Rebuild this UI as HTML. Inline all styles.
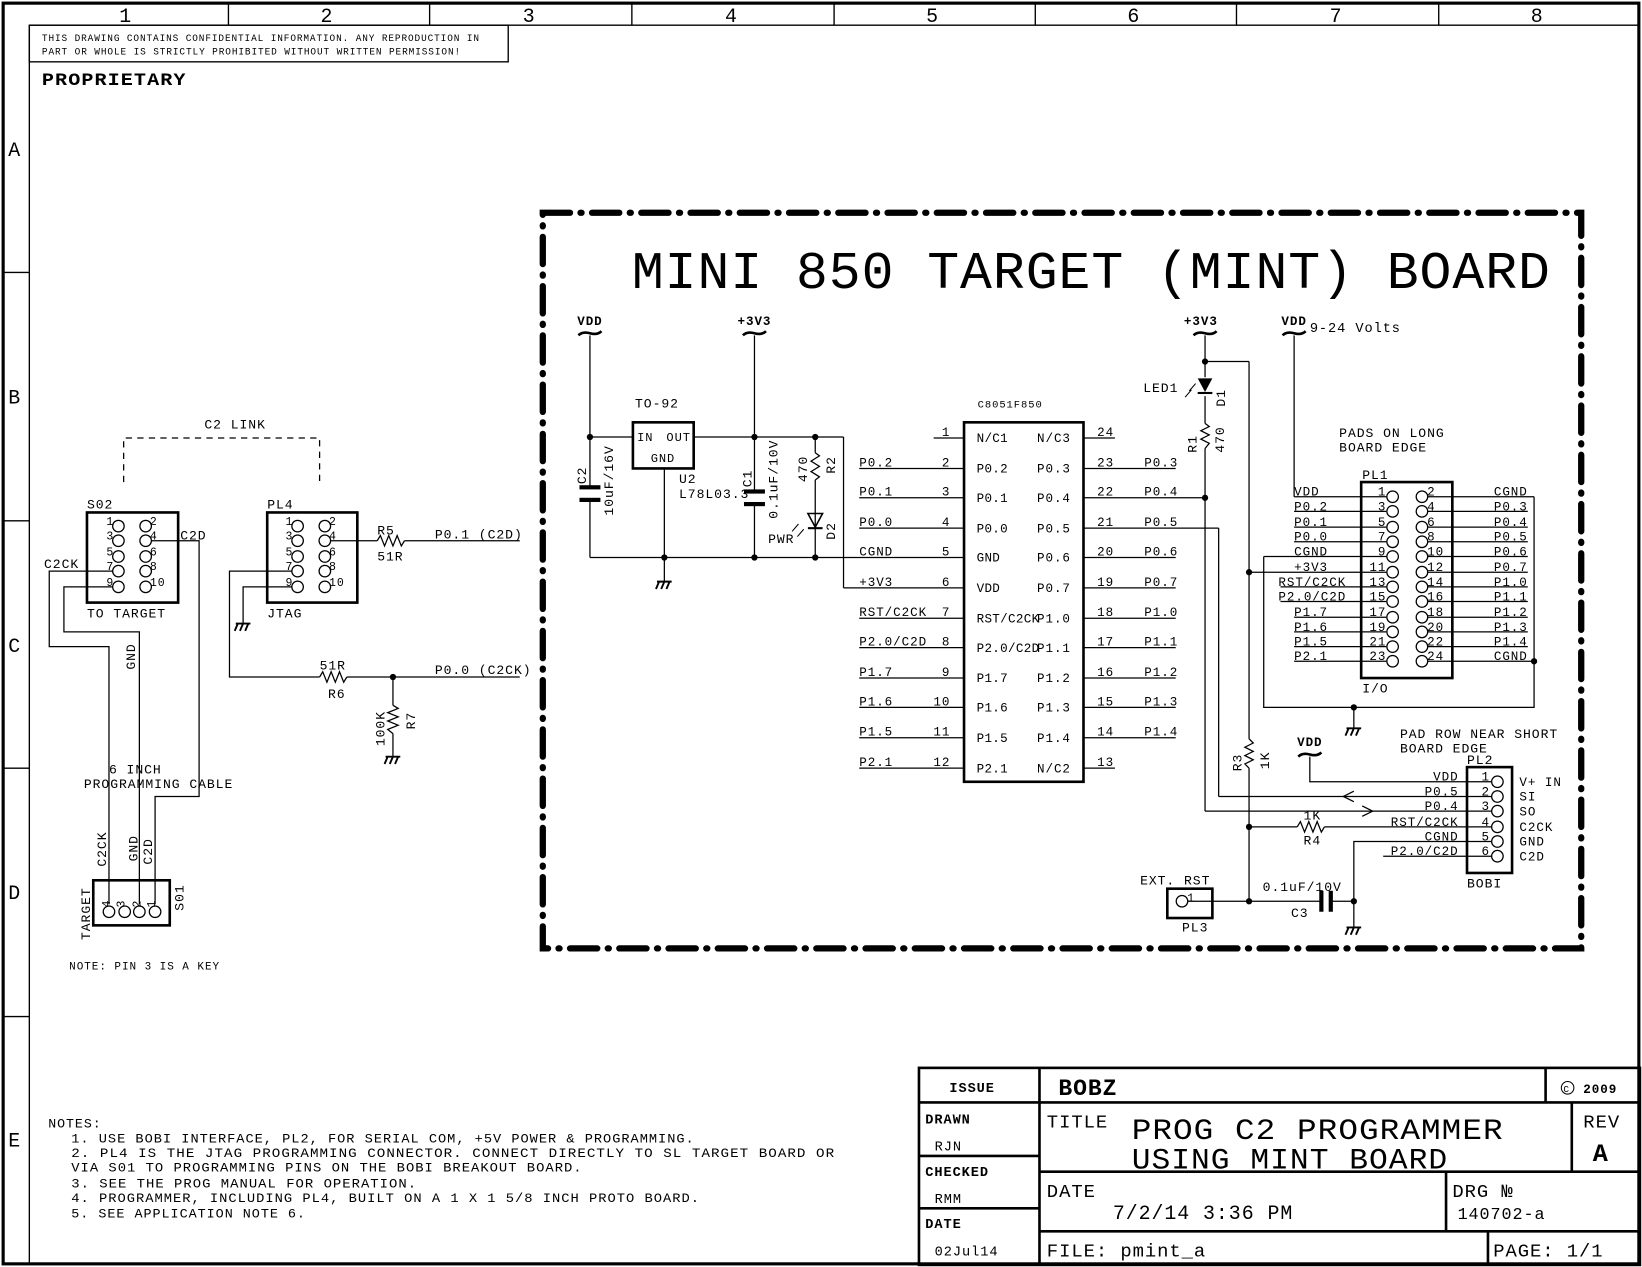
<!DOCTYPE html>
<html><head><meta charset="utf-8"><style>
html,body{margin:0;padding:0;background:#fff;}
svg{display:block}
text{font-family:"Liberation Mono",monospace;fill:#000;letter-spacing:0.9px;}
.tight text{letter-spacing:0.3px;}
</style></head><body>
<svg width="1642" height="1267" viewBox="0 0 1567 1209" preserveAspectRatio="none" xmlns="http://www.w3.org/2000/svg">
<g stroke="#000" fill="none" stroke-width="1.3">
<rect x="3" y="3" width="1561" height="1203" stroke-width="3"/>
<line x1="28" y1="24" x2="1564" y2="24"/>
<line x1="28" y1="24" x2="28" y2="1206"/>
<line x1="218" y1="3" x2="218" y2="24"/><line x1="410" y1="3" x2="410" y2="24"/><line x1="603" y1="3" x2="603" y2="24"/><line x1="796" y1="3" x2="796" y2="24"/><line x1="988" y1="3" x2="988" y2="24"/><line x1="1180" y1="3" x2="1180" y2="24"/><line x1="1373" y1="3" x2="1373" y2="24"/>
<line x1="3" y1="260" x2="28" y2="260"/><line x1="3" y1="497" x2="28" y2="497"/><line x1="3" y1="733" x2="28" y2="733"/><line x1="3" y1="970" x2="28" y2="970"/>
<rect x="28" y="24" width="457" height="35"/>
<rect x="518" y="203" width="991" height="702" stroke-width="6" stroke-dasharray="26 10 1 10" stroke-linecap="round"/>
</g>
<g font-size="19" text-anchor="middle">
<text x="120" y="21">1</text><text x="312" y="21">2</text><text x="505" y="21">3</text><text x="698" y="21">4</text><text x="890" y="21">5</text><text x="1082" y="21">6</text><text x="1275" y="21">7</text><text x="1467" y="21">8</text>
<text x="14" y="149">A</text><text x="14" y="385">B</text><text x="14" y="622">C</text><text x="14" y="858">D</text><text x="14" y="1094">E</text>
</g>
<text x="40" y="39" font-size="9.5" textLength="418" lengthAdjust="spacingAndGlyphs">THIS DRAWING CONTAINS CONFIDENTIAL INFORMATION. ANY REPRODUCTION IN</text>
<text x="40" y="52" font-size="9.5" textLength="400" lengthAdjust="spacingAndGlyphs">PART OR WHOLE IS STRICTLY PROHIBITED WITHOUT WRITTEN PERMISSION!</text>
<text x="40" y="81" font-size="17" font-weight="bold" textLength="138" lengthAdjust="spacingAndGlyphs">PROPRIETARY</text>
<text x="603" y="275" font-size="50" textLength="877" lengthAdjust="spacingAndGlyphs">MINI 850 TARGET (MINT) BOARD</text>

<g font-size="12" font-weight="bold" text-anchor="middle">
<text x="563" y="310">VDD</text><text x="720" y="310">+3V3</text><text x="1146" y="310">+3V3</text><text x="1235" y="310">VDD</text><text x="1250" y="712">VDD</text>
</g>
<g stroke="#000" fill="none" stroke-width="2.5">
<path d="M552 320 q4 -4 11 -2 q7 2 11 -2"/><path d="M709 320 q4 -4 11 -2 q7 2 11 -2"/><path d="M1139 320 q4 -4 11 -2 q7 2 11 -2"/><path d="M1224 320 q4 -4 11 -2 q7 2 11 -2"/><path d="M1239 722 q4 -4 11 -2 q7 2 11 -2"/>
</g>
<text x="1250" y="317" font-size="13">9-24 Volts</text>

<g stroke="#000" fill="none" stroke-width="1.2">
<line x1="563" y1="320" x2="563" y2="465"/><line x1="563" y1="478" x2="563" y2="532"/>
<line x1="563" y1="417" x2="604" y2="417"/>
<rect x="604" y="403" width="58" height="44" stroke-width="2.5"/>
<line x1="634" y1="447" x2="634" y2="555"/>
<line x1="662" y1="417" x2="805" y2="417"/>
<line x1="720" y1="320" x2="720" y2="469"/><line x1="720" y1="481" x2="720" y2="532"/>
<line x1="805" y1="417" x2="805" y2="561"/><line x1="805" y1="561" x2="920" y2="561"/>
<line x1="563" y1="532" x2="920" y2="532"/>
<line x1="778" y1="417" x2="778" y2="432"/>
<polyline points="778,432 782,435 774,440 782,445 774,450 782,455 778,458"/>
<line x1="778" y1="458" x2="778" y2="532"/>
<rect x="920" y="403" width="114" height="343" stroke-width="2.5"/>
<line x1="891" y1="418" x2="920" y2="418"/><line x1="1034" y1="418" x2="1064" y2="418"/><line x1="1034" y1="733" x2="1064" y2="733"/>
<line x1="820" y1="447" x2="920" y2="447"/><line x1="820" y1="475" x2="920" y2="475"/><line x1="820" y1="504" x2="920" y2="504"/>
<line x1="820" y1="590" x2="920" y2="590"/><line x1="820" y1="618" x2="920" y2="618"/><line x1="820" y1="647" x2="920" y2="647"/><line x1="820" y1="675" x2="920" y2="675"/><line x1="820" y1="704" x2="920" y2="704"/><line x1="820" y1="733" x2="920" y2="733"/>
<line x1="1034" y1="447" x2="1122" y2="447"/><line x1="1034" y1="475" x2="1150" y2="475"/><line x1="1034" y1="504" x2="1163" y2="504"/><line x1="1034" y1="532" x2="1122" y2="532"/><line x1="1034" y1="561" x2="1122" y2="561"/><line x1="1034" y1="590" x2="1122" y2="590"/><line x1="1034" y1="618" x2="1122" y2="618"/><line x1="1034" y1="647" x2="1122" y2="647"/><line x1="1034" y1="675" x2="1122" y2="675"/><line x1="1034" y1="704" x2="1122" y2="704"/>
<line x1="1150" y1="320" x2="1150" y2="360"/>
<line x1="1150" y1="345" x2="1192" y2="345"/><line x1="1192" y1="345" x2="1192" y2="705"/>
<line x1="1150" y1="378" x2="1150" y2="404"/>
<polyline points="1150,404 1154,407 1146,411 1154,415 1146,419 1154,423 1150,428"/>
<line x1="1150" y1="428" x2="1150" y2="774"/>
<line x1="1163" y1="504" x2="1163" y2="760"/>
<polyline points="1192,705 1196,709 1188,713 1196,717 1188,721 1196,725 1188,729 1192,733"/>
<line x1="1192" y1="733" x2="1192" y2="860"/>
<rect x="1299" y="460" width="87" height="187" stroke-width="2.5"/>
<line x1="1235" y1="320" x2="1235" y2="474"/>
<line x1="1235" y1="474" x2="1323" y2="474"/><line x1="1235" y1="488" x2="1323" y2="488"/><line x1="1235" y1="503" x2="1323" y2="503"/><line x1="1235" y1="517" x2="1323" y2="517"/><line x1="1206" y1="531" x2="1323" y2="531"/><line x1="1192" y1="546" x2="1323" y2="546"/><line x1="1222" y1="560" x2="1323" y2="560"/><line x1="1222" y1="574" x2="1323" y2="574"/><line x1="1235" y1="589" x2="1323" y2="589"/><line x1="1235" y1="603" x2="1323" y2="603"/><line x1="1235" y1="617" x2="1323" y2="617"/><line x1="1235" y1="631" x2="1323" y2="631"/>
<line x1="1362" y1="474" x2="1464" y2="474"/><line x1="1362" y1="488" x2="1458" y2="488"/><line x1="1362" y1="503" x2="1458" y2="503"/><line x1="1362" y1="517" x2="1458" y2="517"/><line x1="1362" y1="531" x2="1458" y2="531"/><line x1="1362" y1="546" x2="1458" y2="546"/><line x1="1362" y1="560" x2="1458" y2="560"/><line x1="1362" y1="574" x2="1458" y2="574"/><line x1="1362" y1="589" x2="1458" y2="589"/><line x1="1362" y1="603" x2="1458" y2="603"/><line x1="1362" y1="617" x2="1458" y2="617"/><line x1="1362" y1="631" x2="1464" y2="631"/>
<polyline points="1464,474 1464,675 1206,675 1206,531"/>
<line x1="1292" y1="675" x2="1292" y2="695"/>
<rect x="1400" y="732" width="43" height="101" stroke-width="2.5"/>
<polyline points="1250,722 1250,746 1424,746"/>
<line x1="1163" y1="760" x2="1424" y2="760"/>
<line x1="1150" y1="774" x2="1424" y2="774"/>
<polyline points="1292,755 1282,760 1292,765"/><polyline points="1300,769 1310,774 1300,779"/>
<line x1="1192" y1="789" x2="1238" y2="789"/>
<polyline points="1238,789 1241,784 1245,794 1249,784 1253,794 1257,784 1261,794 1264,789"/>
<line x1="1264" y1="789" x2="1424" y2="789"/>
<polyline points="1292,885 1292,803 1424,803"/>
<line x1="1320" y1="817" x2="1424" y2="817"/>
<rect x="1114" y="848" width="43" height="28" stroke-width="2.5"/>
<line x1="1133" y1="860" x2="1262" y2="860"/><line x1="1271" y1="860" x2="1292" y2="860"/>
<path d="M118 460 V418 H305 V460" stroke-dasharray="6 5"/>
<rect x="83" y="489" width="87" height="86" stroke-width="2.5"/>
<rect x="255" y="489" width="86" height="86" stroke-width="2.5"/>
<polyline points="139,516 190,516 190,760 148,760 148,863"/>
<polyline points="109,545 47,545 47,617 104,617 104,863"/>
<polyline points="109,560 61,560 61,603 133,603 133,863"/>
<line x1="310" y1="516" x2="360" y2="516"/>
<polyline points="360,516 363,511 367,521 371,511 375,521 379,511 383,521 386,516"/>
<line x1="386" y1="516" x2="496" y2="516"/>
<polyline points="280,545 219,545 219,646 305,646"/>
<polyline points="305,646 308,641 312,651 316,641 320,651 324,641 328,651 331,646"/>
<line x1="331" y1="646" x2="496" y2="646"/>
<polyline points="280,560 232,560 232,595"/>
<line x1="375" y1="646" x2="375" y2="673"/>
<polyline points="375,673 380,676 370,680 380,684 370,688 380,692 370,696 375,700"/>
<line x1="375" y1="700" x2="375" y2="722"/>
<rect x="89" y="840" width="73" height="43" stroke-width="2.5"/>
<rect x="877" y="1019" width="688" height="188" stroke-width="2.5"/>
<line x1="992" y1="1019" x2="992" y2="1207" stroke-width="2.5"/>
<line x1="877" y1="1052" x2="1565" y2="1052" stroke-width="2.5"/>
<line x1="877" y1="1103" x2="992" y2="1103" stroke-width="2.5"/>
<line x1="877" y1="1153" x2="992" y2="1153" stroke-width="2.5"/>
<line x1="992" y1="1118" x2="1565" y2="1118" stroke-width="2.5"/>
<line x1="992" y1="1175" x2="1565" y2="1175" stroke-width="2.5"/>
<line x1="1475" y1="1019" x2="1475" y2="1052" stroke-width="2.5"/>
<line x1="1500" y1="1052" x2="1500" y2="1118" stroke-width="2.5"/>
<line x1="1380" y1="1118" x2="1380" y2="1175" stroke-width="2.5"/>
<line x1="1420" y1="1175" x2="1420" y2="1207" stroke-width="2.5"/>
</g>
<g stroke="#000" fill="#fff" stroke-width="1.2">
<circle cx="1329" cy="474" r="5.5"/><circle cx="1329" cy="488" r="5.5"/><circle cx="1329" cy="503" r="5.5"/><circle cx="1329" cy="517" r="5.5"/><circle cx="1329" cy="531" r="5.5"/><circle cx="1329" cy="546" r="5.5"/><circle cx="1329" cy="560" r="5.5"/><circle cx="1329" cy="574" r="5.5"/><circle cx="1329" cy="589" r="5.5"/><circle cx="1329" cy="603" r="5.5"/><circle cx="1329" cy="617" r="5.5"/><circle cx="1329" cy="631" r="5.5"/>
<circle cx="1357" cy="474" r="5.5"/><circle cx="1357" cy="488" r="5.5"/><circle cx="1357" cy="503" r="5.5"/><circle cx="1357" cy="517" r="5.5"/><circle cx="1357" cy="531" r="5.5"/><circle cx="1357" cy="546" r="5.5"/><circle cx="1357" cy="560" r="5.5"/><circle cx="1357" cy="574" r="5.5"/><circle cx="1357" cy="589" r="5.5"/><circle cx="1357" cy="603" r="5.5"/><circle cx="1357" cy="617" r="5.5"/><circle cx="1357" cy="631" r="5.5"/>
<circle cx="1429" cy="746" r="5.5"/><circle cx="1429" cy="760" r="5.5"/><circle cx="1429" cy="774" r="5.5"/><circle cx="1429" cy="789" r="5.5"/><circle cx="1429" cy="803" r="5.5"/><circle cx="1429" cy="817" r="5.5"/>
<circle cx="1128" cy="860" r="5.5"/>
<circle cx="113" cy="502" r="5.5"/><circle cx="113" cy="516" r="5.5"/><circle cx="113" cy="531" r="5.5"/><circle cx="113" cy="545" r="5.5"/><circle cx="113" cy="560" r="5.5"/>
<circle cx="139" cy="502" r="5.5"/><circle cx="139" cy="516" r="5.5"/><circle cx="139" cy="531" r="5.5"/><circle cx="139" cy="545" r="5.5"/><circle cx="139" cy="560" r="5.5"/>
<circle cx="284" cy="502" r="5.5"/><circle cx="284" cy="516" r="5.5"/><circle cx="284" cy="531" r="5.5"/><circle cx="284" cy="545" r="5.5"/><circle cx="284" cy="560" r="5.5"/>
<circle cx="310" cy="502" r="5.5"/><circle cx="310" cy="516" r="5.5"/><circle cx="310" cy="531" r="5.5"/><circle cx="310" cy="545" r="5.5"/><circle cx="310" cy="560" r="5.5"/>
<circle cx="104" cy="870" r="5.5"/><circle cx="119" cy="870" r="5.5"/><circle cx="133" cy="870" r="5.5"/><circle cx="148" cy="870" r="5.5"/>
</g>
<g fill="#000">
<circle cx="563" cy="417" r="3"/><circle cx="720" cy="417" r="3"/><circle cx="778" cy="417" r="3"/><circle cx="634" cy="532" r="3"/><circle cx="720" cy="532" r="3"/><circle cx="778" cy="532" r="3"/>
<circle cx="1150" cy="345" r="3"/><circle cx="1150" cy="475" r="3"/><circle cx="1192" cy="546" r="3"/><circle cx="1464" cy="631" r="3"/><circle cx="1292" cy="675" r="3"/>
<circle cx="1192" cy="789" r="3"/><circle cx="1192" cy="860" r="3"/><circle cx="1292" cy="860" r="3"/><circle cx="375" cy="646" r="3"/>
<rect x="553" y="463" width="20" height="4"/><rect x="553" y="475" width="20" height="4"/>
<rect x="710" y="467" width="20" height="4"/><rect x="710" y="479" width="20" height="4"/>
<rect x="1259" y="850" width="4" height="20"/><rect x="1268" y="850" width="4" height="20"/>
<polygon points="1143,361 1157,361 1150,374"/><rect x="1143" y="374" width="14" height="2"/>
<polygon points="771,490 785,490 778,503" fill="none" stroke="#000" stroke-width="1.5"/><rect x="771" y="503" width="14" height="2"/>
</g>
<g stroke="#000" stroke-width="1.8" fill="none">
<path d="M627 555 h14 M629 555 l-3 7 M634 555 l-3 7 M639 555 l-3 7"/>
<path d="M1285 695 h14 M1287 695 l-3 7 M1292 695 l-3 7 M1297 695 l-3 7"/>
<path d="M1285 885 h14 M1287 885 l-3 7 M1292 885 l-3 7 M1297 885 l-3 7"/>
<path d="M225 595 h14 M227 595 l-3 7 M232 595 l-3 7 M237 595 l-3 7"/>
<path d="M368 722 h14 M370 722 l-3 7 M375 722 l-3 7 M380 722 l-3 7"/>
<path d="M767 505 l-6 7 M762 500 l-6 7" stroke-width="1"/><path d="M1141 366 l-6 7 M1137 372 l-6 7" stroke-width="1"/>
</g>

<g font-size="12.5">
<text x="606" y="389">TO-92</text>
<text x="608" y="421" font-size="11.5">IN</text><text x="636" y="421" font-size="11.5">OUT</text><text x="621" y="441" font-size="11.5">GND</text>
<text x="648" y="461">U2</text><text x="648" y="475">L78L03.3</text>
<text transform="translate(559,462) rotate(-90)">C2</text>
<text transform="translate(585,492) rotate(-90)">10uF/16V</text>
<text transform="translate(717,465) rotate(-90)">C1</text>
<text transform="translate(742,495) rotate(-90)">0.1uF/10V</text>
<text transform="translate(770,460) rotate(-90)">470</text>
<text transform="translate(797,452) rotate(-90)">R2</text>
<text transform="translate(797,515) rotate(-90)">D2</text>
<text x="733" y="518">PWR</text>
<text x="933" y="389" font-size="10">C8051F850</text>
<text x="1091" y="374">LED1</text>
<text transform="translate(1169,388) rotate(-90)">D1</text>
<text transform="translate(1142,432) rotate(-90)">R1</text>
<text transform="translate(1168,432) rotate(-90)">470</text>
<text x="1278" y="417">PADS ON LONG</text><text x="1278" y="431">BOARD EDGE</text>
<text x="1300" y="457">PL1</text><text x="1300" y="661">I/O</text>
<text x="1336" y="704">PAD ROW NEAR SHORT</text><text x="1336" y="718">BOARD EDGE</text>
<text x="1400" y="729">PL2</text><text x="1400" y="847">BOBI</text>
<text transform="translate(1185,736) rotate(-90)">R3</text>
<text transform="translate(1211,734) rotate(-90)">1K</text>
<text x="1244" y="782">1K</text><text x="1244" y="806">R4</text>
<text x="1088" y="844">EXT. RST</text><text x="1128" y="889">PL3</text>
<text x="1205" y="850">0.1uF/10V</text><text x="1232" y="875">C3</text>
<text x="1133" y="860" font-size="11">1</text>
</g>
<g font-size="12" class="tight">
<text x="932" y="422">N/C1</text><text x="932" y="451">P0.2</text><text x="932" y="479">P0.1</text><text x="932" y="508">P0.0</text><text x="932" y="536">GND</text><text x="932" y="565">VDD</text><text x="932" y="594">RST/C2CK</text><text x="932" y="622">P2.0/C2D</text><text x="932" y="651">P1.7</text><text x="932" y="679">P1.6</text><text x="932" y="708">P1.5</text><text x="932" y="737">P2.1</text>
</g>
<g font-size="12" text-anchor="end">
<text x="1022" y="422">N/C3</text><text x="1022" y="451">P0.3</text><text x="1022" y="479">P0.4</text><text x="1022" y="508">P0.5</text><text x="1022" y="536">P0.6</text><text x="1022" y="565">P0.7</text><text x="1022" y="594">P1.0</text><text x="1022" y="622">P1.1</text><text x="1022" y="651">P1.2</text><text x="1022" y="679">P1.3</text><text x="1022" y="708">P1.4</text><text x="1022" y="737">N/C2</text>
<text x="907" y="416">1</text><text x="907" y="445">2</text><text x="907" y="473">3</text><text x="907" y="502">4</text><text x="907" y="530">5</text><text x="907" y="559">6</text><text x="907" y="588">7</text><text x="907" y="616">8</text><text x="907" y="645">9</text><text x="907" y="673">10</text><text x="907" y="702">11</text><text x="907" y="731">12</text>
</g>
<g font-size="12">
<text x="1047" y="416">24</text><text x="1047" y="445">23</text><text x="1047" y="473">22</text><text x="1047" y="502">21</text><text x="1047" y="530">20</text><text x="1047" y="559">19</text><text x="1047" y="588">18</text><text x="1047" y="616">17</text><text x="1047" y="645">16</text><text x="1047" y="673">15</text><text x="1047" y="702">14</text><text x="1047" y="731">13</text>
<text x="820" y="445">P0.2</text><text x="820" y="473">P0.1</text><text x="820" y="502">P0.0</text><text x="820" y="530">CGND</text><text x="820" y="559">+3V3</text><text x="820" y="588">RST/C2CK</text><text x="820" y="616">P2.0/C2D</text><text x="820" y="645">P1.7</text><text x="820" y="673">P1.6</text><text x="820" y="702">P1.5</text><text x="820" y="731">P2.1</text>
<text x="1092" y="445">P0.3</text><text x="1092" y="473">P0.4</text><text x="1092" y="502">P0.5</text><text x="1092" y="530">P0.6</text><text x="1092" y="559">P0.7</text><text x="1092" y="588">P1.0</text><text x="1092" y="616">P1.1</text><text x="1092" y="645">P1.2</text><text x="1092" y="673">P1.3</text><text x="1092" y="702">P1.4</text>
</g>
<g font-size="12">
<text x="1235" y="473">VDD</text><text x="1235" y="487">P0.2</text><text x="1235" y="502">P0.1</text><text x="1235" y="516">P0.0</text><text x="1235" y="530">CGND</text><text x="1235" y="545">+3V3</text><text x="1220" y="559">RST/C2CK</text><text x="1220" y="573">P2.0/C2D</text><text x="1235" y="588">P1.7</text><text x="1235" y="602">P1.6</text><text x="1235" y="616">P1.5</text><text x="1235" y="630">P2.1</text>
<text x="1362" y="473">2</text><text x="1362" y="487">4</text><text x="1362" y="502">6</text><text x="1362" y="516">8</text><text x="1362" y="530">10</text><text x="1362" y="545">12</text><text x="1362" y="559">14</text><text x="1362" y="573">16</text><text x="1362" y="588">18</text><text x="1362" y="602">20</text><text x="1362" y="616">22</text><text x="1362" y="630">24</text>
<text x="1450" y="750">V+ IN</text><text x="1450" y="764">SI</text><text x="1450" y="778">SO</text><text x="1450" y="793">C2CK</text><text x="1450" y="807">GND</text><text x="1450" y="821">C2D</text>
</g>
<g font-size="12" text-anchor="end">
<text x="1323" y="473">1</text><text x="1323" y="487">3</text><text x="1323" y="502">5</text><text x="1323" y="516">7</text><text x="1323" y="530">9</text><text x="1323" y="545">11</text><text x="1323" y="559">13</text><text x="1323" y="573">15</text><text x="1323" y="588">17</text><text x="1323" y="602">19</text><text x="1323" y="616">21</text><text x="1323" y="630">23</text>
<text x="1458" y="473">CGND</text><text x="1458" y="487">P0.3</text><text x="1458" y="502">P0.4</text><text x="1458" y="516">P0.5</text><text x="1458" y="530">P0.6</text><text x="1458" y="545">P0.7</text><text x="1458" y="559">P1.0</text><text x="1458" y="573">P1.1</text><text x="1458" y="588">P1.2</text><text x="1458" y="602">P1.3</text><text x="1458" y="616">P1.4</text><text x="1458" y="630">CGND</text>
<text x="1392" y="745">VDD</text><text x="1392" y="759">P0.5</text><text x="1392" y="773">P0.4</text><text x="1392" y="788">RST/C2CK</text><text x="1392" y="802">CGND</text><text x="1392" y="816">P2.0/C2D</text>
<text x="1422" y="745">1</text><text x="1422" y="759">2</text><text x="1422" y="773">3</text><text x="1422" y="788">4</text><text x="1422" y="802">5</text><text x="1422" y="816">6</text>
</g>
<g font-size="12.5">
<text x="195" y="409">C2 LINK</text>
<text x="83" y="485">S02</text><text x="255" y="485">PL4</text>
<text x="83" y="589">TO TARGET</text><text x="255" y="589">JTAG</text>
<text x="172" y="515">C2D</text><text x="42" y="542">C2CK</text>
<text x="360" y="510">R5</text><text x="360" y="535">51R</text>
<text x="415" y="514">P0.1 (C2D)</text>
<text x="305" y="639">51R</text><text x="313" y="666">R6</text>
<text x="415" y="643">P0.0 (C2CK)</text>
<text transform="translate(367,712) rotate(-90)">100K</text>
<text transform="translate(396,696) rotate(-90)">R7</text>
<text transform="translate(129,639) rotate(-90)">GND</text>
<text x="104" y="738">6 INCH</text><text x="80" y="752">PROGRAMMING CABLE</text>
<text transform="translate(101,827) rotate(-90)">C2CK</text>
<text transform="translate(131,822) rotate(-90)">GND</text>
<text transform="translate(145,825) rotate(-90)">C2D</text>
<text transform="translate(86,897) rotate(-90)">TARGET</text>
<text transform="translate(175,869) rotate(-90)">S01</text>
<text x="66" y="925" font-size="10.5">NOTE: PIN 3 IS A KEY</text>
</g>
<g font-size="11">
<text x="109" y="501" text-anchor="end">1</text><text x="109" y="515" text-anchor="end">3</text><text x="109" y="530" text-anchor="end">5</text><text x="109" y="544" text-anchor="end">7</text><text x="109" y="559" text-anchor="end">9</text>
<text x="143" y="501">2</text><text x="143" y="515">4</text><text x="143" y="530">6</text><text x="143" y="544">8</text><text x="143" y="559">10</text>
<text x="280" y="501" text-anchor="end">1</text><text x="280" y="515" text-anchor="end">3</text><text x="280" y="530" text-anchor="end">5</text><text x="280" y="544" text-anchor="end">7</text><text x="280" y="559" text-anchor="end">9</text>
<text x="314" y="501">2</text><text x="314" y="515">4</text><text x="314" y="530">6</text><text x="314" y="544">8</text><text x="314" y="559">10</text>
<text transform="translate(105,866) rotate(-90)">4</text><text transform="translate(119,866) rotate(-90)">3</text><text transform="translate(134,866) rotate(-90)">2</text><text transform="translate(148,866) rotate(-90)">1</text>
</g>
<g font-size="12.5">
<text x="46" y="1076" textLength="51" lengthAdjust="spacingAndGlyphs">NOTES:</text>
<text x="68" y="1090" textLength="595" lengthAdjust="spacingAndGlyphs">1. USE BOBI INTERFACE, PL2, FOR SERIAL COM, +5V POWER &amp; PROGRAMMING.</text>
<text x="68" y="1104" textLength="729" lengthAdjust="spacingAndGlyphs">2. PL4 IS THE JTAG PROGRAMMING CONNECTOR.  CONNECT DIRECTLY TO SL TARGET BOARD OR</text>
<text x="68" y="1118" textLength="488" lengthAdjust="spacingAndGlyphs">VIA S01 TO PROGRAMMING PINS ON THE BOBI BREAKOUT BOARD.</text>
<text x="68" y="1133" textLength="330" lengthAdjust="spacingAndGlyphs">3. SEE THE PROG MANUAL FOR OPERATION.</text>
<text x="68" y="1147" textLength="600" lengthAdjust="spacingAndGlyphs">4. PROGRAMMER, INCLUDING PL4, BUILT ON A 1 X 1 5/8 INCH PROTO BOARD.</text>
<text x="68" y="1162" textLength="224" lengthAdjust="spacingAndGlyphs">5. SEE APPLICATION NOTE 6.</text>
</g>
<g font-size="13">
<text x="906" y="1042" font-weight="bold">ISSUE</text>
<text x="883" y="1072" font-weight="bold">DRAWN</text><text x="892" y="1098">RJN</text>
<text x="883" y="1122" font-weight="bold">CHECKED</text><text x="892" y="1148">RMM</text>
<text x="883" y="1172" font-weight="bold">DATE</text><text x="892" y="1198">02Jul14</text>
<text x="1511" y="1043" font-weight="bold" font-size="12">2009</text>
</g>
<circle cx="1496" cy="1038" r="6" fill="none" stroke="#000"/><text x="1492" y="1042" font-size="9">C</text>
<text x="1010" y="1045" font-size="22" font-weight="bold">BOBZ</text>
<text x="999" y="1076" font-size="18">TITLE</text>
<text x="1080" y="1087" font-size="28" textLength="355" lengthAdjust="spacingAndGlyphs">PROG C2 PROGRAMMER</text>
<text x="1080" y="1115" font-size="28" textLength="302" lengthAdjust="spacingAndGlyphs">USING MINT BOARD</text>
<text x="1511" y="1076" font-size="18">REV</text>
<text x="1520" y="1108" font-size="24" font-weight="bold">A</text>
<text x="999" y="1142" font-size="18">DATE</text>
<text x="1062" y="1163" font-size="19">7/2/14 3:36 PM</text>
<text x="1386" y="1142" font-size="18">DRG №</text>
<text x="1391" y="1163" font-size="16">140702-a</text>
<text x="999" y="1199" font-size="18">FILE: pmint_a</text>
<text x="1425" y="1199" font-size="18">PAGE: 1/1</text>
</svg>
</body></html>
